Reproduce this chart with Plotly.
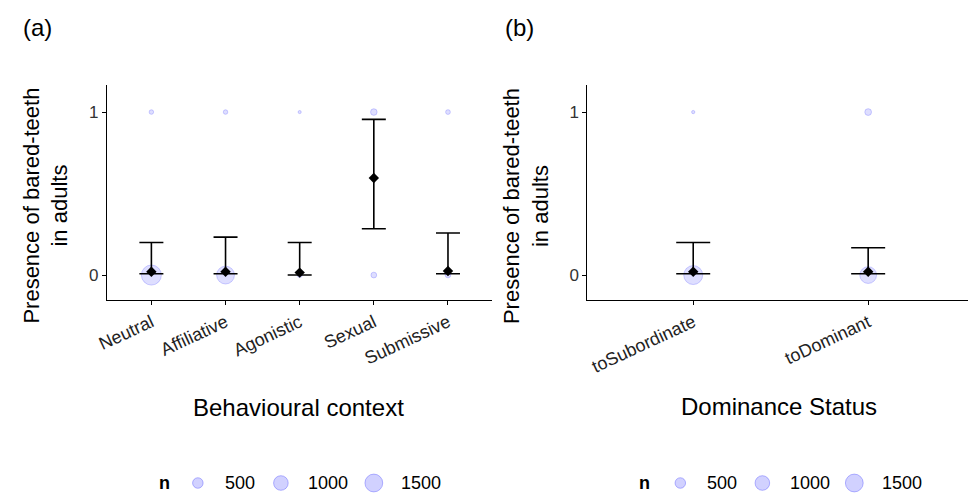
import plotly.graph_objects as go
import numpy as np

W, H = 968, 494

# ---------------- data ----------------
ctx_labels = ["Neutral", "Affiliative", "Agonistic", "Sexual", "Submissive"]
ctx_mean = [0.02, 0.02, 0.015, 0.595, 0.025]
ctx_lo = [0.008, 0.008, 0.0, 0.284, 0.008]
ctx_hi = [0.20, 0.233, 0.20, 0.955, 0.258]
ctx_n0 = [1900, 1500, 80, 120, 110]   # count of observations with value 0
ctx_n1 = [60, 60, 8, 170, 70]         # count of observations with value 1

dom_labels = ["toSubordinate", "toDominant"]
dom_mean = [0.02, 0.02]
dom_lo = [0.008, 0.008]
dom_hi = [0.20, 0.168]
dom_n0 = [1700, 1320]
dom_n1 = [12, 180]

legend_n = [500, 1000, 1500]

# ---------------- size scale (area) ----------------
N_MIN, N_MAX = 5, 2000
D_MIN, D_MAX = 3.0, 20.5


def diam(n):
    n = np.asarray(n, dtype=float)
    frac = np.clip((n - N_MIN) / (N_MAX - N_MIN), 0, 1)
    return np.sqrt(D_MIN ** 2 + frac * (D_MAX ** 2 - D_MIN ** 2))


PT_FILL = "rgba(90,90,255,0.28)"
PT_LINE = "rgba(70,70,255,0.38)"
FONT = "Liberation Sans, Arial, sans-serif"

fig = go.Figure()


def px_x(p):
    return p / W


def px_y(p):
    return 1 - p / H


Y_DOM = [px_y(300), px_y(85)]
Y_RANGE = [-0.153, 1.166]


def add_panel(xa, ya, labels, mean, lo, hi, n0, n1, cap):
    xs = list(range(1, len(labels) + 1))
    fig.add_trace(go.Scatter(
        x=xs + xs, y=[0] * len(xs) + [1] * len(xs), mode="markers",
        marker=dict(size=[float(v) for v in diam(n0)] + [float(v) for v in diam(n1)],
                    color=PT_FILL, line=dict(color=PT_LINE, width=1)),
        xaxis=xa, yaxis=ya, showlegend=False, hoverinfo="skip", cliponaxis=False))
    fig.add_trace(go.Scatter(
        x=xs, y=mean, mode="markers",
        marker=dict(symbol="diamond", size=8, color="black"),
        error_y=dict(type="data", symmetric=False,
                     array=[h - m for h, m in zip(hi, mean)],
                     arrayminus=[m - l for m, l in zip(mean, lo)],
                     color="black", thickness=1.6, width=cap),
        xaxis=xa, yaxis=ya, showlegend=False))


add_panel("x", "y", ctx_labels, ctx_mean, ctx_lo, ctx_hi, ctx_n0, ctx_n1, 12)
add_panel("x2", "y2", dom_labels, dom_mean, dom_lo, dom_hi, dom_n0, dom_n1, 17)

axis_common = dict(showline=True, linecolor="black", linewidth=1.2,
                   ticks="outside", ticklen=4, tickcolor="black",
                   showgrid=False, zeroline=False)
yfont = dict(family=FONT, size=17, color="#333333")
xfont = dict(family=FONT, size=18, color="#222222")

fig.update_layout(
    xaxis=dict(domain=[px_x(97), px_x(487)], range=[0.4, 5.6],
               tickvals=[1, 2, 3, 4, 5], ticktext=ctx_labels, tickangle=-25,
               anchor="y", tickfont=xfont, **axis_common),
    yaxis=dict(domain=Y_DOM, range=Y_RANGE, tickvals=[0, 1], anchor="x",
               tickfont=yfont, **axis_common),
    xaxis2=dict(domain=[px_x(583), 1.0], range=[0.395, 1 + (968 - 690) / 177],
                tickvals=[1, 2], ticktext=dom_labels, tickangle=-25,
                anchor="y2", tickfont=xfont, **axis_common),
    yaxis2=dict(domain=Y_DOM, range=Y_RANGE, tickvals=[0, 1], anchor="x2",
                tickfont=yfont, **axis_common),
    width=W, height=H, margin=dict(l=0, r=0, t=0, b=0),
    paper_bgcolor="white", plot_bgcolor="white",
    font=dict(family=FONT, color="black"),
)

# size legend keys (legend decoration, sizes from the same size scale)
leg_sets = [
    (155, [189, 273, 367], [232, 321, 415]),
    (641, [677, 760, 853], [719, 808, 901]),
]
LEG_Y = 483
for nx, cx, tx in leg_sets:
    for c, t, v in zip(cx, tx, legend_n):
        d = float(diam([v])[0])
        fig.add_shape(type="circle", xref="paper", yref="paper",
                      xsizemode="pixel", ysizemode="pixel",
                      xanchor=px_x(c), yanchor=px_y(LEG_Y),
                      x0=-d / 2, x1=d / 2, y0=-d / 2, y1=d / 2,
                      fillcolor=PT_FILL, line=dict(color=PT_LINE, width=1))
        fig.add_annotation(x=px_x(t), y=px_y(LEG_Y), xref="paper", yref="paper",
                           xanchor="center", yanchor="middle",
                           text=str(v), showarrow=False,
                           font=dict(size=18, family=FONT))
    fig.add_annotation(x=px_x(nx), y=px_y(LEG_Y), xref="paper", yref="paper",
                       xanchor="center", yanchor="middle",
                       text="<b>n</b>", showarrow=False,
                       font=dict(size=18, family=FONT))

# titles and axis labels
for txt, x in [("(a)", 27), ("(b)", 514)]:
    fig.add_annotation(x=px_x(x), y=px_y(28), xref="paper", yref="paper",
                       xanchor="center", yanchor="middle",
                       text=txt, showarrow=False, font=dict(size=24, family=FONT))

for x in [35, 521]:
    fig.add_annotation(x=px_x(x), y=px_y(206), xref="paper", yref="paper",
                       xanchor="center", yanchor="middle",
                       text="Presence of bared-teeth<br>in adults", textangle=-90,
                       showarrow=False, font=dict(size=22, family=FONT))

fig.add_annotation(x=px_x(291), y=px_y(407), xref="paper", yref="paper",
                   xanchor="center", yanchor="middle",
                   text="Behavioural context", showarrow=False,
                   font=dict(size=24, family=FONT))
fig.add_annotation(x=px_x(777), y=px_y(406), xref="paper", yref="paper",
                   xanchor="center", yanchor="middle",
                   text="Dominance Status", showarrow=False,
                   font=dict(size=24, family=FONT))

fig.write_html(
    "out.html",
    config={"displayModeBar": False},
    post_script=(
        "document.documentElement.style.margin='0px';"
        "document.documentElement.style.padding='0px';"
        "document.documentElement.style.overflow='hidden';"
        "document.body.style.margin='0px';document.body.style.padding='0px';"
        "var gd=document.getElementById('{plot_id}');"
        "gd.style.position='fixed';gd.style.left='0px';gd.style.top='0px';"
        "gd.style.margin='0px';"
    ),
)
